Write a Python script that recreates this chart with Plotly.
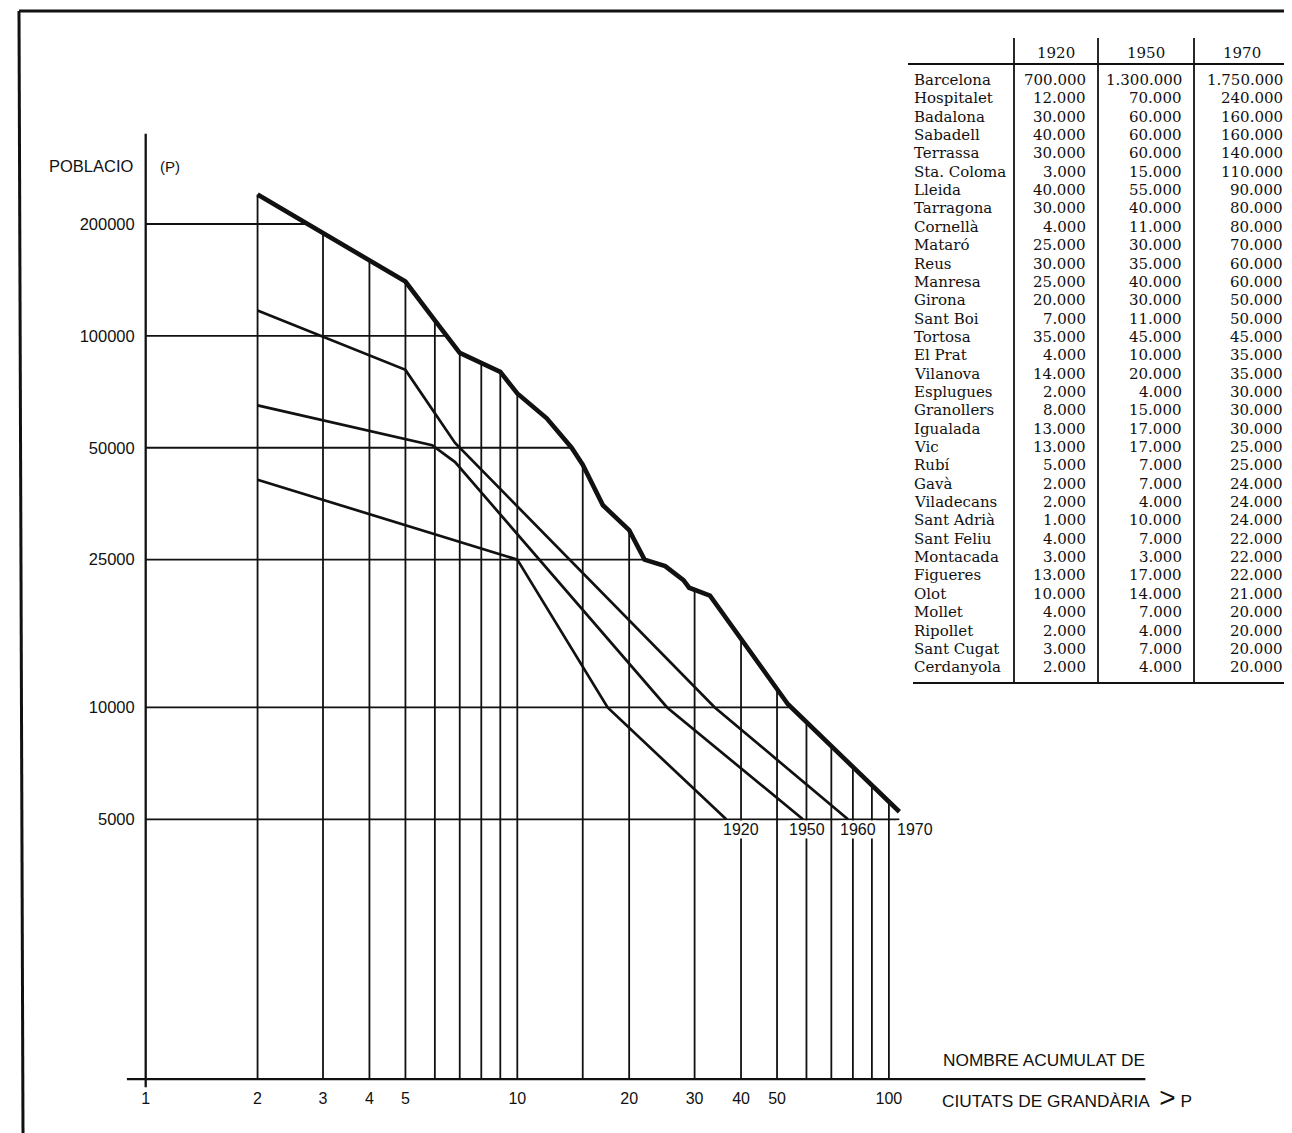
import math
import numpy as np
import plotly.graph_objects as go

W, H = 1292, 1133
OFF = 8                      # page body margin of the html page
FW, FH = W - OFF, H - OFF    # figure size so that it ends at the window edge

# ---------------- data ----------------
cities = ["Barcelona", "Hospitalet", "Badalona", "Sabadell", "Terrassa", "Sta. Coloma",
          "Lleida", "Tarragona", "Cornellà", "Mataró", "Reus", "Manresa", "Girona",
          "Sant Boi", "Tortosa", "El Prat", "Vilanova", "Esplugues", "Granollers",
          "Igualada", "Vic", "Rubí", "Gavà", "Viladecans", "Sant Adrià", "Sant Feliu",
          "Montacada", "Figueres", "Olot", "Mollet", "Ripollet", "Sant Cugat", "Cerdanyola"]
pop_1920 = [700000, 12000, 30000, 40000, 30000, 3000, 40000, 30000, 4000, 25000, 30000,
            25000, 20000, 7000, 35000, 4000, 14000, 2000, 8000, 13000, 13000, 5000, 2000,
            2000, 1000, 4000, 3000, 13000, 10000, 4000, 2000, 3000, 2000]
pop_1950 = [1300000, 70000, 60000, 60000, 60000, 15000, 55000, 40000, 11000, 30000, 35000,
            40000, 30000, 11000, 45000, 10000, 20000, 4000, 15000, 17000, 17000, 7000, 7000,
            4000, 10000, 7000, 3000, 17000, 14000, 7000, 4000, 7000, 4000]
pop_1970 = [1750000, 240000, 160000, 160000, 140000, 110000, 90000, 80000, 80000, 70000,
            60000, 60000, 50000, 50000, 45000, 35000, 35000, 30000, 30000, 30000, 25000,
            25000, 24000, 24000, 24000, 22000, 22000, 22000, 21000, 20000, 20000, 20000, 20000]
table_years = ["1920", "1950", "1970"]

y_tick_values = [200000, 100000, 50000, 25000, 10000, 5000]
x_tick_values = [1, 2, 3, 4, 5, 10, 20, 30, 40, 50, 100]
grid_ranks = [2, 3, 4, 5, 6, 7, 8, 9, 10, 15, 20, 30, 40, 50, 60, 70, 80, 90, 100]

# smoothed curves
curve_1920_rank = [2, 10, 17.5, 36.5]
curve_1920_pop = [41000, 25000, 10000, 5000]
curve_1950_rank = [2, 5.9, 6.8, 25.3, 58.7]
curve_1950_pop = [65000, 50800, 45750, 10000, 5000]
curve_1960_rank = [2, 5, 6.8, 34, 77.6]
curve_1960_pop = [117000, 81000, 51500, 10000, 5000]
# 1970 below 20 000 inhabitants (not listed in the table)
tail_1970_rank = [53.5, 106.7]
tail_1970_pop = [10200, 5240]

axis_min_pop = 1000
axis_max_pop = 350000
axis_min_rank = 0.89
axis_max_rank = 490

# ---------------- derived 1970 rank-size curve ----------------
vals70 = sorted(set(pop_1970), reverse=True)
cum70 = [sum(1 for p in pop_1970 if p >= v) for v in vals70]
pts70 = [(r, v) for r, v in zip(cum70, vals70) if r >= 2]
rank_1970 = [r for r, v in pts70] + tail_1970_rank
popc_1970 = [v for r, v in pts70] + tail_1970_pop
lr70 = np.log10(rank_1970)
lp70 = np.log10(popc_1970)


def curve_at_rank(r):
    return float(10 ** np.interp(math.log10(r), lr70, lp70))


def rank_at_pop(p):
    return float(10 ** np.interp(math.log10(p), lp70[::-1], lr70[::-1]))


# ---------------- scale / layout helpers (window pixels) ----------------
PX_DEC = 371.6
X1_PX = 145.7          # window pixel of rank 1
Y200_PX = 224.0        # window pixel of 200 000
XR = [-(X1_PX - OFF) / PX_DEC, (W - X1_PX) / PX_DEC]
YR = [math.log10(200000) - (H - Y200_PX) / PX_DEC,
      math.log10(200000) + (Y200_PX - OFF) / PX_DEC]


def px(x):
    return (x - OFF) / FW


def py(y):
    return 1 - (y - OFF) / FH


INK = "#111111"
SANS = "Liberation Sans, Arial, sans-serif"
SERIF = "DejaVu Serif, serif"

fig = go.Figure()

# grid: horizontal lines up to the 1970 curve
hx, hy = [], []
for lev in y_tick_values:
    hx += [1, rank_at_pop(lev), None]
    hy += [lev, lev, None]
fig.add_trace(go.Scatter(x=hx, y=hy, mode="lines", line=dict(color=INK, width=1.8),
                         hoverinfo="skip"))
# grid: vertical lines up to the 1970 curve
vx, vy = [], []
for r in grid_ranks:
    vx += [r, r, None]
    vy += [axis_min_pop, curve_at_rank(r), None]
fig.add_trace(go.Scatter(x=vx, y=vy, mode="lines", line=dict(color=INK, width=1.8),
                         hoverinfo="skip"))
# axes lines
fig.add_trace(go.Scatter(x=[1, 1, None, axis_min_rank, axis_max_rank],
                         y=[axis_min_pop * 0.95, axis_max_pop, None, axis_min_pop, axis_min_pop],
                         mode="lines", line=dict(color=INK, width=2.3), hoverinfo="skip"))
# curves
for rk, pp, wd in [(curve_1920_rank, curve_1920_pop, 2.7),
                   (curve_1950_rank, curve_1950_pop, 2.7),
                   (curve_1960_rank, curve_1960_pop, 2.7),
                   (rank_1970, popc_1970, 4.6)]:
    fig.add_trace(go.Scatter(x=rk, y=pp, mode="lines",
                             line=dict(color=INK, width=wd, shape="linear"),
                             hoverinfo="skip"))

ann = []
shapes = []

# curve labels
for lbl, xc in zip(["1920", "1950", "1960", "1970"], [741, 807, 858, 915]):
    ann.append(dict(x=px(xc), y=py(829), xref="paper", yref="paper", text=lbl,
                    showarrow=False, xanchor="center", yanchor="middle",
                    font=dict(family=SANS, size=16, color=INK), bgcolor="white", borderpad=0))

ann.append(dict(x=px(47), y=py(166), xref="paper", yref="paper", text="POBLACIO",
                showarrow=False, xanchor="left", yanchor="middle",
                font=dict(family=SANS, size=16.5, color=INK)))
ann.append(dict(x=px(158), y=py(166), xref="paper", yref="paper", text="(P)",
                showarrow=False, xanchor="left", yanchor="middle",
                font=dict(family=SANS, size=15, color=INK)))
ann.append(dict(x=px(941), y=py(1060), xref="paper", yref="paper", text="NOMBRE ACUMULAT DE",
                showarrow=False, xanchor="left", yanchor="middle",
                font=dict(family=SANS, size=17.3, color=INK)))
ann.append(dict(x=px(940), y=py(1097), xref="paper", yref="paper",
                text="CIUTATS DE GRANDÀRIA&nbsp; <span style='font-size:28px'>&gt;</span>&nbsp;P",
                showarrow=False, xanchor="left", yanchor="middle",
                font=dict(family=SANS, size=17.3, color=INK)))

# ---------------- table ----------------
T_TOP, T_HEAD_LINE, T_BOTTOM = 38, 64, 683
ROW0, ROW_H = 80, 18.35
col_lines = [1014, 1098, 1194]
head_centers = [1056, 1146, 1242]
num_right = [1088, 1184, 1285]
name_left = 912


def fmt(v):
    return f"{v:,}".replace(",", ".")


for yr, xc in zip(table_years, head_centers):
    ann.append(dict(x=px(xc), y=py(53), xref="paper", yref="paper", text=yr, showarrow=False,
                    xanchor="center", yanchor="middle",
                    font=dict(family=SERIF, size=15, color=INK)))
for i, name in enumerate(cities):
    yy = py(ROW0 + i * ROW_H)
    ann.append(dict(x=px(name_left), y=yy, xref="paper", yref="paper", text=name,
                    showarrow=False, xanchor="left", yanchor="middle",
                    font=dict(family=SERIF, size=15, color=INK)))
    for col, xr in zip([pop_1920, pop_1950, pop_1970], num_right):
        ann.append(dict(x=px(xr), y=yy, xref="paper", yref="paper", text=fmt(col[i]),
                        showarrow=False, xanchor="right", yanchor="middle",
                        font=dict(family=SERIF, size=15, color=INK)))

for cx in col_lines:
    shapes.append(dict(type="line", xref="paper", yref="paper", x0=px(cx), x1=px(cx),
                       y0=py(T_TOP), y1=py(T_BOTTOM), line=dict(color=INK, width=1.8)))
shapes.append(dict(type="line", xref="paper", yref="paper", x0=px(908), x1=px(1286),
                   y0=py(T_HEAD_LINE), y1=py(T_HEAD_LINE), line=dict(color=INK, width=2)))
shapes.append(dict(type="line", xref="paper", yref="paper", x0=px(913), x1=px(1290),
                   y0=py(T_BOTTOM), y1=py(T_BOTTOM), line=dict(color=INK, width=2)))

# page frame
shapes.append(dict(type="line", xref="paper", yref="paper", x0=px(19), x1=px(W),
                   y0=py(11), y1=py(11), line=dict(color=INK, width=3)))
shapes.append(dict(type="line", xref="paper", yref="paper", x0=px(19), x1=px(23),
                   y0=py(11), y1=py(H), line=dict(color=INK, width=3)))

fig.update_layout(
    width=FW, height=FH, margin=dict(l=0, r=0, t=0, b=0),
    paper_bgcolor="white", plot_bgcolor="white", showlegend=False,
    annotations=ann, shapes=shapes,
    xaxis=dict(type="log", range=XR, domain=[0, 1], anchor="free", position=py(1078),
               showgrid=False, zeroline=False, showline=False, ticks="",
               tickvals=x_tick_values, ticktext=[str(v) for v in x_tick_values],
               tickfont=dict(family=SANS, size=16, color=INK), ticklabelstandoff=9),
    yaxis=dict(type="log", range=YR, domain=[0, 1], anchor="free", position=px(X1_PX),
               showgrid=False, zeroline=False, showline=False, ticks="",
               tickvals=y_tick_values, ticktext=[str(v) for v in y_tick_values],
               tickfont=dict(family=SANS, size=16.5, color=INK), ticklabelstandoff=11),
)

fig.write_html("out.html")
